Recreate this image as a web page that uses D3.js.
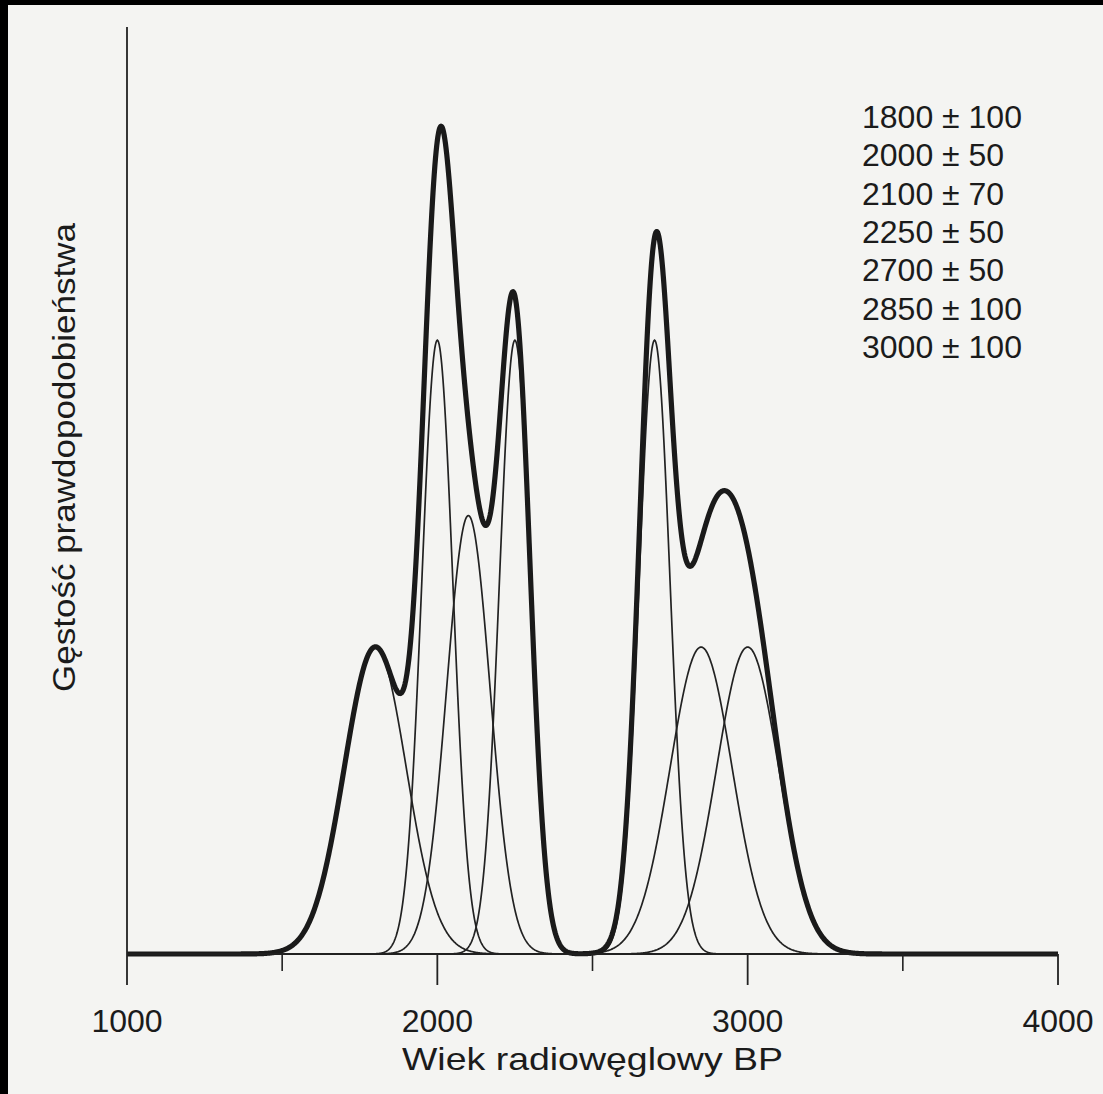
<!DOCTYPE html>
<html>
<head>
<meta charset="utf-8">
<script src="https://cdn.jsdelivr.net/npm/d3@7"></script>
<style>
  html, body { margin: 0; padding: 0; background: #000; }
  svg { display: block; }
  text { font-family: "Liberation Sans", Arial, sans-serif; fill: #1b1b1b; }
</style>
</head>
<body>
<div id="chart"></div>
<script>
// radiocarbon dates (BP) and their 1-sigma errors
const dateMeans = [1800, 2000, 2100, 2250, 2700, 2850, 3000];
const dateErrors = [100, 50, 70, 50, 50, 100, 100];
const dateLabels = ['1800 ± 100', '2000 ± 50', '2100 ± 70', '2250 ± 50', '2700 ± 50', '2850 ± 100', '3000 ± 100'];
const majorTicks = [1000, 2000, 3000, 4000];
const minorTicks = [1500, 2500, 3500];
const xTitle = 'Wiek radiowęglowy BP';
const yTitle = 'Gęstość prawdopodobieństwa';

const width = 1103,
   height = 1094;

const margin = {
   top: 27,
   right: 45,
   bottom: 140,
   left: 127
};

const svg = d3.select('#chart').append('svg')
   .attr('width', width)
   .attr('height', height);

// scanned paper with dark edge on top / left
svg.append('rect')
   .attr('width', width)
   .attr('height', height)
   .attr('fill', '#000');
svg.append('rect')
   .attr('x', 8)
   .attr('y', 5)
   .attr('width', width - 8)
   .attr('height', height - 5)
   .attr('fill', '#f4f4f2');

const x = d3.scaleLinear()
   .domain([1000, 4000])
   .range([margin.left, width - margin.right]);

const y = d3.scaleLinear()
   .domain([0, 0.01205])
   .range([954, margin.top]);

// normal density for one date
function density(mean, sd, t) {
   return Math.exp(-0.5 * Math.pow((t - mean) / sd, 2)) / (sd * Math.sqrt(2 * Math.PI));
}

const grid = d3.range(1000, 4000.1, 2);

const line = d3.line()
   .x(d => x(d[0]))
   .y(d => y(d[1]));

const g = svg.append('g');

// single dates, thin
dateMeans.forEach((m, i) => {
   let pts = grid.map(t => [t, density(m, dateErrors[i], t)]);
   g.append('path')
      .attr('d', line(pts))
      .attr('fill', 'none')
      .attr('stroke', '#222')
      .attr('stroke-width', 1.7);
});

// summed distribution, thick
const sumPts = grid.map(t => [t, d3.sum(dateMeans, (m, i) => density(m, dateErrors[i], t))]);

// axes
const x0 = y(0);
svg.append('line')
   .attr('x1', x(1000)).attr('x2', x(4000))
   .attr('y1', x0).attr('y2', x0)
   .attr('stroke', '#222').attr('stroke-width', 1.6);
svg.append('line')
   .attr('x1', x(1000)).attr('x2', x(1000))
   .attr('y1', margin.top).attr('y2', x0)
   .attr('stroke', '#222').attr('stroke-width', 1.8);

svg.selectAll('.major')
   .data(majorTicks)
   .enter().append('line')
   .attr('class', 'major')
   .attr('x1', d => x(d)).attr('x2', d => x(d))
   .attr('y1', x0).attr('y2', x0 + 31)
   .attr('stroke', '#222').attr('stroke-width', 1.8);

svg.selectAll('.minor')
   .data(minorTicks)
   .enter().append('line')
   .attr('class', 'minor')
   .attr('x1', d => x(d)).attr('x2', d => x(d))
   .attr('y1', x0).attr('y2', x0 + 17)
   .attr('stroke', '#222').attr('stroke-width', 1.6);

svg.selectAll('.tick-label')
   .data(majorTicks)
   .enter().append('text')
   .attr('class', 'tick-label')
   .attr('x', d => x(d))
   .attr('y', 1032)
   .attr('text-anchor', 'middle')
   .style('font-size', '32px')
   .text(d => d);

g.append('path')
   .attr('d', line(sumPts))
   .attr('fill', 'none')
   .attr('stroke', '#1a1a1a')
   .attr('stroke-width', 5.2)
   .attr('stroke-linejoin', 'round');

// axis titles are a bit wider in the scan than plain Arial
svg.append('text')
   .attr('x', 402)
   .attr('y', 1070)
   .attr('textLength', 381)
   .attr('lengthAdjust', 'spacingAndGlyphs')
   .style('font-size', '32px')
   .text(xTitle);

svg.append('text')
   .attr('transform', 'translate(75, 692) rotate(-90)')
   .attr('textLength', 469)
   .attr('lengthAdjust', 'spacingAndGlyphs')
   .style('font-size', '32px')
   .text(yTitle);

// list of dates, top right
svg.selectAll('.legend')
   .data(dateLabels)
   .enter().append('text')
   .attr('class', 'legend')
   .attr('x', 862)
   .attr('y', (d, i) => 128 + i * 38.3)
   .style('font-size', '32px')
   .text(d => d);
</script>
</body>
</html>
